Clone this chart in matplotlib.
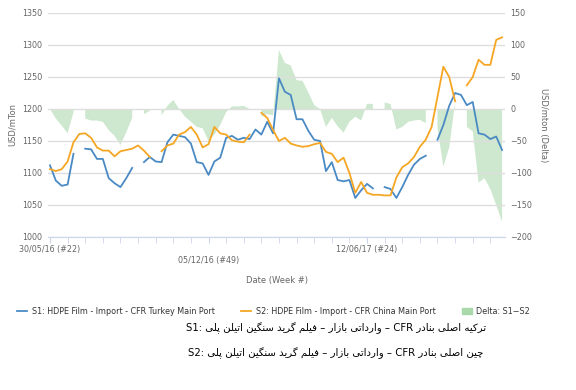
import numpy as np
import matplotlib
matplotlib.use('Agg')
import matplotlib.pyplot as plt
from matplotlib.lines import Line2D
from matplotlib.patches import Patch

# Weekly data, week 0 = 30/05/16 (#22)
weeks = list(range(78))

s1 = [1112, 1088, 1080, 1082, 1130, None, 1138, 1137, 1122, 1122,
      1092, 1084, 1078, 1092, 1108, None, 1117, 1125, 1118, 1117,
      1148, 1160, 1158, 1156, 1146, 1117, 1115, 1097, 1118, 1124,
      1155, 1158, 1152, 1155, 1153, 1168, 1160, 1180, 1162, 1248,
      1227, 1222, 1184, 1184, 1166, 1152, 1150, 1103, 1117, 1089,
      1087, 1089, 1061, 1073, 1083, 1076, None, 1078, 1075, 1061,
      1078, 1097, 1113, 1122, 1127, None, 1152, 1175, 1205, 1225,
      1222, 1206, 1211, 1162, 1160, 1153, 1157, 1136]

s2 = [1106, 1103, 1106, 1118, 1148, 1161, 1162, 1155, 1140, 1135,
      1135, 1126, 1134, 1136, 1138, 1143, 1135, 1125, None, 1134,
      1143, 1146, 1160, 1164, 1172, 1160, 1140, 1145, 1172, 1162,
      1160, 1151, 1149, 1148, 1160, None, 1194, 1186, 1167, 1150,
      1155, 1146, 1143, 1141, 1142, 1145, 1147, 1133, 1130, 1117,
      1124, 1100, 1069, 1086, 1069, 1066, 1066, 1065, 1065, 1093,
      1109, 1115, 1125, 1141, 1152, 1172, 1219, 1266, 1250, 1212,
      None, 1237, 1250, 1277, 1269, 1269, 1308, 1312]

delta = [0, -15, -26, -38, -5, None, -15, -18, -18, -20,
         -33, -42, -56, -36, -14, None, -8, -3, None, -10,
         5, 14, 0, -12, -20, -28, -30, -50, -40, -25,
         -5, 4, 4, 5, 0, None, -12, -8, -10, 92,
         72, 68, 45, 44, 26, 6, 0, -28, -14, -27,
         -37, -20, -12, -18, 8, 8, None, 10, 8, -32,
         -28, -20, -18, -17, -22, None, -30, -90, -60, 10,
         None, -28, -35, -115, -108, -125, -150, -176]

tick_weeks = [0, 27, 54]
tick_labels = ['30/05/16 (#22)', '\n05/12/16 (#49)', '12/06/17 (#24)']

s1_name = 'S1: HDPE Film - Import - CFR Turkey Main Port'
s2_name = 'S2: HDPE Film - Import - CFR China Main Port'
delta_name = 'Delta: S1\u2212S2'

fa_words_1 = ['پلی', 'اتیلن', 'سنگین', 'گرید', 'فیلم', '–', 'بازار', 'وارداتی', '–', 'CFR', 'بنادر', 'اصلی', 'ترکیه']
fa_words_2 = ['پلی', 'اتیلن', 'سنگین', 'گرید', 'فیلم', '–', 'بازار', 'وارداتی', '–', 'CFR', 'بنادر', 'اصلی', 'چین']

# presentation forms: isolated, final, initial, medial (None -> joins only to the right)
forms = {
    'ا': ('\uFE8D', '\uFE8E', None, None),
    'ب': ('\uFE8F', '\uFE90', '\uFE91', '\uFE92'),
    'پ': ('\uFB56', '\uFB57', '\uFB58', '\uFB59'),
    'ت': ('\uFE95', '\uFE96', '\uFE97', '\uFE98'),
    'چ': ('\uFB7A', '\uFB7B', '\uFB7C', '\uFB7D'),
    'د': ('\uFEA9', '\uFEAA', None, None),
    'ر': ('\uFEAD', '\uFEAE', None, None),
    'ز': ('\uFEAF', '\uFEB0', None, None),
    'س': ('\uFEB1', '\uFEB2', '\uFEB3', '\uFEB4'),
    'ص': ('\uFEB9', '\uFEBA', '\uFEBB', '\uFEBC'),
    'ف': ('\uFED1', '\uFED2', '\uFED3', '\uFED4'),
    'ک': ('\uFB8E', '\uFB8F', '\uFB90', '\uFB91'),
    'گ': ('\uFB92', '\uFB93', '\uFB94', '\uFB95'),
    'ل': ('\uFEDD', '\uFEDE', '\uFEDF', '\uFEE0'),
    'م': ('\uFEE1', '\uFEE2', '\uFEE3', '\uFEE4'),
    'ن': ('\uFEE5', '\uFEE6', '\uFEE7', '\uFEE8'),
    'و': ('\uFEED', '\uFEEE', None, None),
    'ه': ('\uFEE9', '\uFEEA', '\uFEEB', '\uFEEC'),
    'ی': ('\uFBFC', '\uFBFD', '\uFBFE', '\uFBFF'),
}


def shape_word(word):
    if not any(c in forms for c in word):
        return word
    out = []
    for i, c in enumerate(word):
        if c not in forms:
            out.append(c)
            continue
        prev = word[i - 1] if i > 0 else None
        nxt = word[i + 1] if i < len(word) - 1 else None
        join_prev = prev in forms and forms[prev][2] is not None
        join_next = nxt in forms and forms[c][2] is not None
        iso, fin, ini, med = forms[c]
        if join_prev and join_next:
            out.append(med)
        elif join_prev:
            out.append(fin)
        elif join_next:
            out.append(ini)
        else:
            out.append(iso)
    return ''.join(reversed(out))


def fa_line(prefix, words):
    return prefix + ' ' + ' '.join(shape_word(w) for w in words)


def to_arr(vals):
    return np.array([np.nan if v is None else v for v in vals], dtype=float)


blue = '#4a8ac4'
orange = '#f5a623'
green = '#cde8cf'
grid_c = '#dedede'
text_c = '#666666'

plt.rcParams['font.family'] = ['DejaVu Sans']

fig = plt.figure(figsize=(5.76, 3.9), dpi=100)
ax = fig.add_axes([48 / 576, 1 - 237 / 390, 457 / 576, 224 / 390])
ax2 = ax.twinx()

x = np.array(weeks)
d = to_arr(delta)
ax2.fill_between(x, 0, d, where=~np.isnan(d), color=green, lw=0, zorder=1)
ax2.set_ylim(-200, 150)
ax2.set_yticks(range(-200, 151, 50))

ax.set_zorder(ax2.get_zorder() + 1)
ax.patch.set_visible(False)
ax.plot(x, to_arr(s1), color=blue, lw=1.3, zorder=3)
ax.plot(x, to_arr(s2), color=orange, lw=1.3, zorder=3)

ax.set_ylim(1000, 1350)
ax.set_yticks(range(1000, 1351, 50))
ax.set_xlim(-0.34, 77.5)
ax.set_xticks(range(0, 77, 3), minor=True)
ax.set_xticks(tick_weeks)
ax.set_xticklabels(tick_labels)
ax.grid(axis='y', color=grid_c, lw=1)
ax.set_axisbelow(True)

for a in (ax, ax2):
    for s in ('top', 'left', 'right'):
        a.spines[s].set_visible(False)
    a.spines['bottom'].set_color('#ccd6eb')
    a.tick_params(axis='y', length=0, labelsize=5.8, labelcolor=text_c, pad=4)
ax2.spines['bottom'].set_visible(False)
ax.tick_params(axis='x', which='both', length=4, color='#ccd6eb', labelsize=5.8, labelcolor=text_c, pad=2)

ax.set_ylabel('USD/mTon', fontsize=6, color=text_c, labelpad=4)
ax2.set_ylabel('USD/mton (Delta)', fontsize=6, color=text_c, rotation=270, labelpad=11)
ax.set_xlabel('Date (Week #)', fontsize=6, color=text_c, labelpad=8)

handles = [Line2D([], [], color=blue, lw=1.3),
           Line2D([], [], color=orange, lw=1.3),
           Patch(color='#a9d9aa')]
fig.legend(handles, [s1_name, s2_name, delta_name], loc='center', bbox_to_anchor=(0.475, 1 - 311 / 390),
           ncol=3, frameon=False, fontsize=5.8, handlelength=1.2, handletextpad=0.6, columnspacing=3.3,
           labelcolor='#333333')

fig.text(336 / 576, 1 - 328 / 390, fa_line('S1:', fa_words_1), ha='center', va='center', fontsize=7.3, color='black')
fig.text(336 / 576, 1 - 353 / 390, fa_line('S2:', fa_words_2), ha='center', va='center', fontsize=7.3, color='black')

fig.savefig('out.png', dpi=100)
